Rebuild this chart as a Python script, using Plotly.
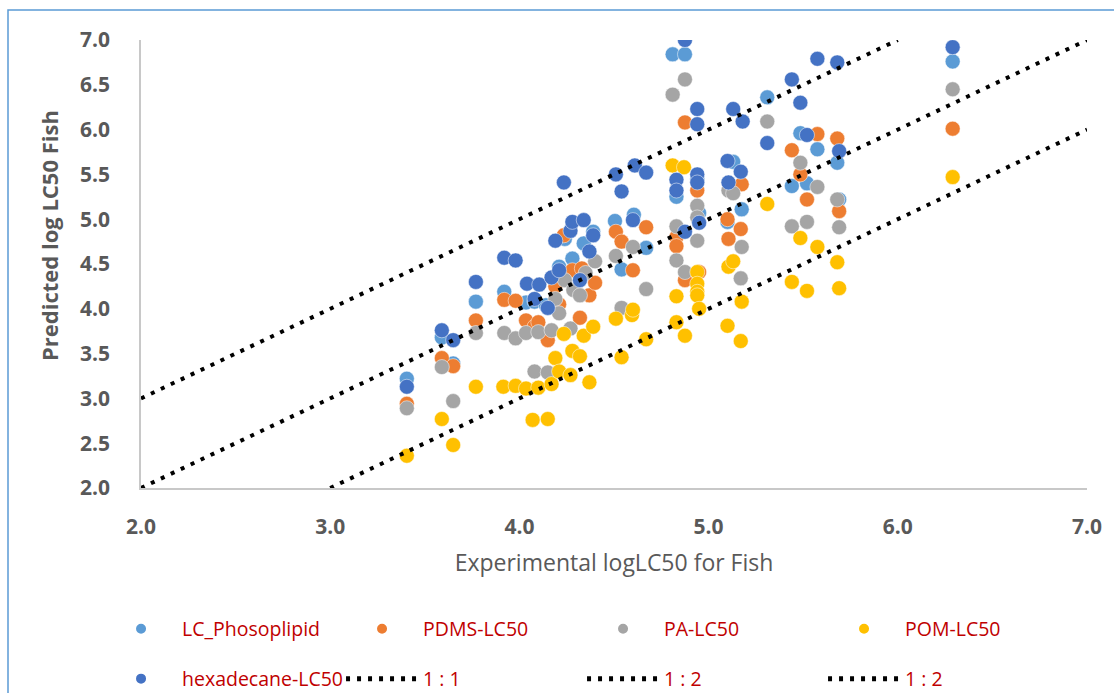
import plotly.graph_objects as go

# ---------------- data ----------------
lc_x = [3.405, 3.59, 3.65, 3.77, 3.92, 4.035, 4.08, 4.14, 4.21, 4.24, 4.28, 4.34, 4.39, 4.505, 4.54,
        4.605, 4.67, 4.81, 4.83, 4.875, 4.95, 4.94, 5.10, 5.13, 5.175, 5.31, 5.44, 5.485, 5.52, 5.575,
        5.68, 5.69, 6.29]
lc_y = [3.22, 3.68, 3.39, 4.08, 4.19, 4.07, 4.08, 4.04, 4.47, 4.78, 4.56, 4.73, 4.86, 4.98, 4.44,
        5.05, 4.68, 6.84, 5.25, 6.84, 5.07, 5.45, 4.97, 5.64, 5.11, 6.36, 5.37, 5.96, 5.40, 5.78,
        5.63, 5.22, 6.76]

pdms_x = [3.405, 3.59, 3.65, 3.77, 3.92, 3.98, 4.035, 4.08, 4.10, 4.15, 4.19, 4.21, 4.235, 4.28, 4.32,
          4.33, 4.37, 4.40, 4.51, 4.54, 4.60, 4.67, 4.83, 4.83, 4.875, 4.875, 4.94, 4.95, 5.10, 5.105,
          5.17, 5.175, 5.44, 5.485, 5.52, 5.575, 5.68, 5.69, 6.29]
pdms_y = [2.94, 3.45, 3.36, 3.87, 4.10, 4.09, 3.87, 3.80, 3.85, 3.65, 4.25, 4.05, 4.82, 4.43, 3.90,
          4.45, 4.15, 4.29, 4.86, 4.75, 4.43, 4.91, 4.80, 4.70, 6.08, 4.32, 5.32, 4.41, 5.00, 4.78,
          4.89, 5.39, 5.77, 5.50, 5.22, 5.95, 5.90, 5.09, 6.01]

pa_x = [3.405, 3.59, 3.65, 3.77, 3.92, 3.98, 4.035, 4.08, 4.10, 4.15, 4.17, 4.19, 4.21, 4.24, 4.27,
        4.285, 4.32, 4.35, 4.40, 4.51, 4.54, 4.60, 4.67, 4.81, 4.83, 4.83, 4.875, 4.875, 4.94, 4.94,
        4.94, 5.105, 5.13, 5.175, 5.17, 5.31, 5.44, 5.485, 5.52, 5.575, 5.68, 5.69, 6.29]
pa_y = [2.89, 3.35, 2.97, 3.73, 3.73, 3.67, 3.73, 3.30, 3.74, 3.29, 3.76, 4.11, 3.95, 4.32, 3.78,
        4.21, 4.15, 4.40, 4.53, 4.59, 4.01, 4.69, 4.22, 6.39, 4.92, 4.54, 6.56, 4.41, 5.15, 5.02,
        4.76, 5.32, 5.29, 4.69, 4.34, 6.09, 4.92, 5.63, 4.97, 5.36, 5.22, 4.91, 6.45]

pom_x = [3.405, 3.59, 3.65, 3.77, 3.915, 3.98, 4.035, 4.07, 4.10, 4.15, 4.17, 4.19, 4.21, 4.235, 4.27,
         4.28, 4.32, 4.34, 4.37, 4.39, 4.51, 4.54, 4.595, 4.60, 4.67, 4.81, 4.83, 4.83, 4.87, 4.875,
         4.94, 4.94, 4.94, 4.94, 4.95, 5.10, 5.105, 5.13, 5.17, 5.175, 5.31, 5.44, 5.485, 5.52, 5.575,
         5.68, 5.69, 6.29]
pom_y = [2.36, 2.77, 2.48, 3.13, 3.13, 3.14, 3.11, 2.76, 3.12, 2.77, 3.16, 3.45, 3.30, 3.72, 3.26,
         3.53, 3.47, 3.70, 3.18, 3.80, 3.89, 3.46, 3.93, 3.99, 3.66, 5.60, 4.14, 3.85, 5.58, 3.70,
         4.41, 4.28, 4.19, 4.15, 4.00, 3.81, 4.47, 4.53, 3.64, 4.08, 5.17, 4.30, 4.79, 4.20, 4.69,
         4.52, 4.23, 5.47]

hex_x = [3.405, 3.59, 3.65, 3.77, 3.92, 3.98, 4.04, 4.08, 4.105, 4.15, 4.17, 4.19, 4.21, 4.235, 4.27,
         4.28, 4.32, 4.34, 4.37, 4.39, 4.51, 4.54, 4.60, 4.61, 4.67, 4.83, 4.83, 4.875, 4.875, 4.94,
         4.94, 4.94, 4.94, 4.95, 5.10, 5.105, 5.17, 5.18, 5.13, 5.31, 5.44, 5.485, 5.52, 5.575, 5.68,
         5.69, 6.29]
hex_y = [3.13, 3.76, 3.65, 4.30, 4.57, 4.54, 4.28, 4.11, 4.27, 4.01, 4.35, 4.76, 4.43, 5.41, 4.87,
         4.97, 4.32, 4.99, 4.64, 4.82, 5.50, 5.31, 4.99, 5.60, 5.52, 5.44, 5.32, 7.00, 4.86, 6.23,
         6.06, 5.50, 5.41, 4.96, 5.65, 5.41, 5.53, 6.09, 6.23, 5.85, 6.56, 6.30, 5.94, 6.79, 6.75,
         5.76, 6.92]

line11_x = [2.0, 7.0]
line11_y = [2.0, 7.0]
line12a_x = [2.0, 6.0]
line12a_y = [3.0, 7.0]
line12b_x = [3.0, 7.0]
line12b_y = [2.0, 6.0]

series = [
    ("LC_Phosoplipid", lc_x, lc_y, "#5B9BD5", "legend"),
    ("PDMS-LC50", pdms_x, pdms_y, "#ED7D31", "legend"),
    ("PA-LC50", pa_x, pa_y, "#A5A5A5", "legend"),
    ("POM-LC50", pom_x, pom_y, "#FFC000", "legend"),
    ("hexadecane-LC50", hex_x, hex_y, "#4472C4", "legend2"),
]
lines = [
    ("1 : 1", line11_x, line11_y),
    ("1 : 2", line12a_x, line12a_y),
    ("1 : 2", line12b_x, line12b_y),
]

FONT = "Open Sans"
GREY = "#595959"

fig = go.Figure()
for name, xs, ys, col, lg in series:
    fig.add_trace(go.Scatter(
        x=xs, y=ys, mode="markers", name=name, legend=lg,
        marker=dict(size=15, color=col, line=dict(width=0.5, color="white")),
    ))
for name, xs, ys in lines:
    fig.add_trace(go.Scatter(
        x=xs, y=ys, mode="lines", name=name, legend="legend2",
        line=dict(color="black", width=4, dash="4px,7px"),
    ))

legend_common = dict(
    orientation="h", xanchor="left", yanchor="middle", xref="paper", yref="paper",
    entrywidth=154, entrywidthmode="pixels", itemsizing="constant", itemwidth=72,
    font=dict(family=FONT, size=19.5, color="#C00000"),
    bgcolor="rgba(0,0,0,0)", borderwidth=0,
)

fig.update_layout(
    width=1114, height=693,
    margin=dict(l=141, r=27, t=40, b=205, autoexpand=False),
    paper_bgcolor="white", plot_bgcolor="white",
    font=dict(family=FONT, color=GREY),
    showlegend=True,
    legend=dict(x=-0.0433, y=-0.3147, **legend_common),
    legend2=dict(x=-0.0433, y=-0.4263, **legend_common),
    xaxis=dict(
        range=[2, 7], dtick=1, tick0=2, tickformat=".1f",
        showgrid=False, zeroline=False, showline=True, linecolor="#C8C8C8", linewidth=1.5,
        ticks="", ticklabelstandoff=19,
        tickfont=dict(family=FONT, size=21, color=GREY, weight="bold"),
        title=dict(text="Experimental logLC50 for Fish", standoff=16,
                   font=dict(family=FONT, size=23, color=GREY)),
    ),
    yaxis=dict(
        range=[2, 7], dtick=0.5, tick0=2, tickformat=".1f",
        showgrid=False, zeroline=False, showline=True, linecolor="#C8C8C8", linewidth=1.5,
        ticks="", ticklabelstandoff=25,
        tickfont=dict(family=FONT, size=21, color=GREY, weight="bold"),
    ),
    annotations=[dict(
        text="Predicted log LC50 Fish", textangle=-90, showarrow=False,
        xref="paper", yref="paper", x=(49 - 141) / 946, y=(488 - 236) / 448,
        xanchor="center", yanchor="middle",
        font=dict(family=FONT, size=22, color=GREY, weight="bold"),
    )],
    shapes=[dict(type="rect", xref="paper", yref="paper",
                 x0=(8 - 141) / 946, x1=(1125 - 141) / 946,
                 y0=(488 - 705) / 448, y1=(488 - 10) / 448,
                 line=dict(color="#5B9BD5", width=1.5), fillcolor="rgba(0,0,0,0)",
                 layer="below")],
)

fig.write_html("out.html")
